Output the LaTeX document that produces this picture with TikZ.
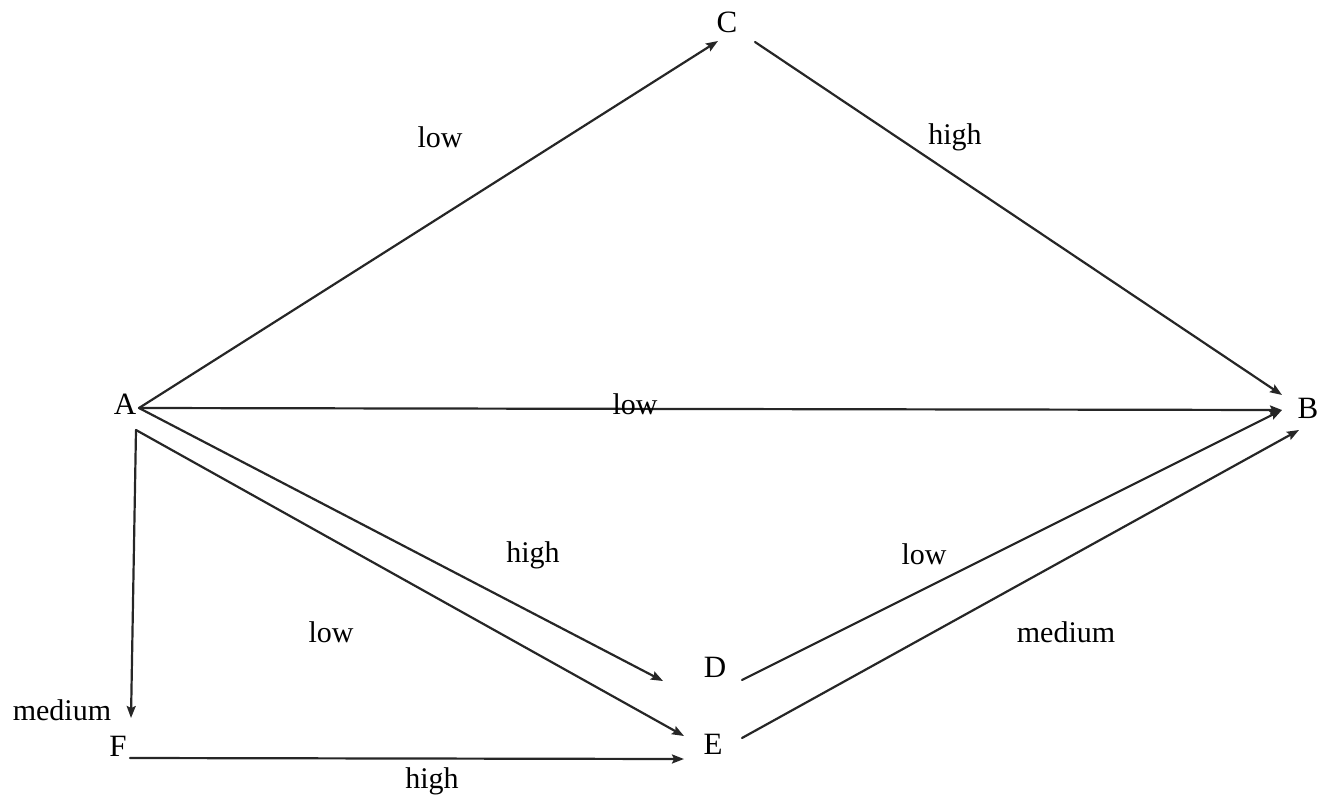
\documentclass[tikz,border=0pt]{standalone}
\usepackage{fontspec}
\setmainfont{Liberation Serif}
\usetikzlibrary{arrows.meta}
\begin{document}
\begin{tikzpicture}[x=1pt,y=-1pt,
  vert/.style={inner sep=0pt,font=\fontsize{31}{31}\selectfont},
  lab/.style={inner sep=0pt,font=\fontsize{30}{30}\selectfont},
  edge/.style={line width=2.2pt,draw=black!85,line cap=round,-{Stealth[length=12pt,width=9pt,inset=2pt]}}]
\useasboundingbox (0,0) rectangle (1326,801);
% vertices
\node[vert] (A) at (125,404) {A};
\node[vert] (B) at (1308,408) {B};
\node[vert] (C) at (727,22) {C};
\node[vert] (D) at (715,667) {D};
\node[vert] (E) at (713,744) {E};
\node[vert] (F) at (118,746) {F};
% ports
\coordinate (a1) at (139,408);
\coordinate (a2) at (136,430);
\coordinate (c0) at (718,41);
\coordinate (c1) at (755,42);
\coordinate (b1) at (1282,395);
\coordinate (b2) at (1282,410);
\coordinate (b3) at (1299,430);
\coordinate (d0) at (663,681);
\coordinate (d1) at (742,680);
\coordinate (e0) at (684,736);
\coordinate (e1) at (742,738);
\coordinate (e2) at (684,759);
\coordinate (f0) at (131,718);
\coordinate (f1) at (130,758);
% connectors
\draw[edge] (a1) -- (c0);
\draw[edge] (c1) -- (b1);
\draw[edge] (a1) -- (b2);
\draw[edge] (a1) -- (d0);
\draw[edge] (a2) -- (e0);
\draw[edge] (a2) -- (f0);
\draw[edge] (f1) -- (e2);
\draw[edge] (d1) -- (b2);
\draw[edge] (e1) -- (b3);
% labels
\node[lab] (l1) at (440,137) {low};
\node[lab] (l2) at (955,137) {high};
\node[lab] (l3) at (635,404) {low};
\node[lab] (l4) at (533,555) {high};
\node[lab] (l5) at (331,632) {low};
\node[lab] (l6) at (62,710) {medium};
\node[lab] (l7) at (432,781) {high};
\node[lab] (l8) at (924,554) {low};
\node[lab] (l9) at (1066,632) {medium};
\end{tikzpicture}
\end{document}
